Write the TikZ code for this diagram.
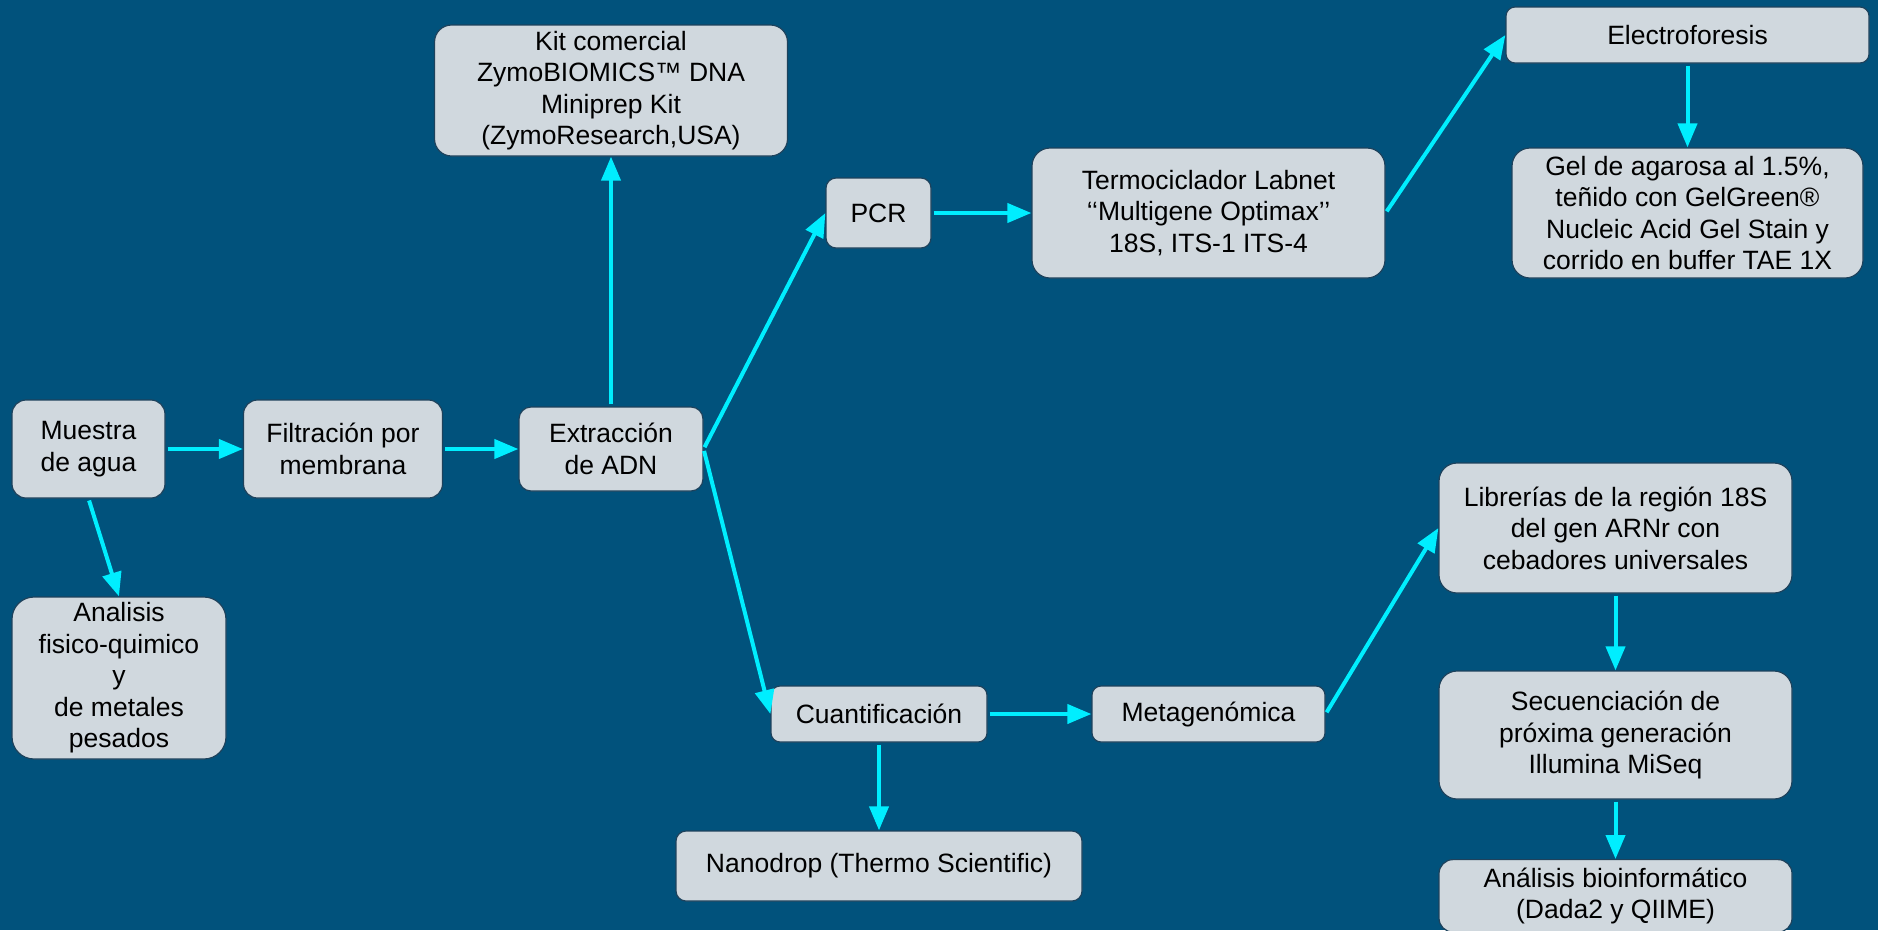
\documentclass[tikz,border=0pt]{standalone}
\usepackage{fontspec}
\setmainfont{Liberation Sans}
\usetikzlibrary{arrows.meta}

\definecolor{bgblue}{RGB}{1,82,124}
\definecolor{boxfill}{RGB}{208,216,222}
\definecolor{boxline}{RGB}{30,66,92}
\definecolor{flowcyan}{RGB}{0,238,255}

\begin{document}
\begin{tikzpicture}[x=1pt, y=-1pt]

	\tikzstyle{box_step} = [rectangle, rounded corners=14pt, draw=boxline, line width=1.2pt, fill=boxfill, align=center, inner sep=4pt, font=\fontsize{26.5}{31.5}\selectfont]
	\tikzstyle{flow} = [-{Triangle[length=24pt, width=19pt]}, line width=4pt, color=flowcyan, shorten <=2pt]

	\clip (0,0) rectangle (1878,930);
	\fill[bgblue] (0,0) rectangle (1878,930);

%------------------------------------------------------------
	\node[box_step, minimum width=153pt, minimum height=98pt] (muestra) at (88.5,449) {Muestra\\de agua};
	\node[box_step, minimum width=199pt, minimum height=98pt] (filtracion) at (343,449) {Filtración por\\membrana};
	\node[box_step, minimum width=184pt, minimum height=84pt, rounded corners=12pt] (extraccion) at (611,449) {Extracción\\de ADN};
	\node[box_step, minimum width=214pt, minimum height=162pt, inner sep=2pt, rounded corners=22pt] (analisis) at (119,678) {Analisis\\fisico-quimico\\y\\de metales\\pesados};

	\draw[flow] (muestra.east) -- (filtracion.west);
	\draw[flow] (filtracion.east) -- (extraccion.west);
	\draw[flow] (muestra.south) -- (analisis.north);

%------------------------------------------------------------
	\node[box_step, minimum width=353pt, minimum height=131pt, inner sep=2pt, rounded corners=17pt] (kit) at (611,90.5) {Kit comercial\\ZymoBIOMICS™ DNA\\Miniprep Kit\\(ZymoResearch,USA)};
	\node[box_step, minimum width=105pt, minimum height=70pt, rounded corners=10pt] (pcr) at (878.5,213) {PCR};
	\node[box_step, minimum width=353pt, minimum height=130pt, rounded corners=18pt] (termo) at (1208.5,213) {Termociclador Labnet\\‘‘Multigene Optimax’’\\18S, ITS-1 ITS-4};

	\draw[flow] (extraccion.north) -- (kit.south);
	\draw[flow] (extraccion.east) -- (pcr.west);
	\draw[flow] (pcr.east) -- (termo.west);

%------------------------------------------------------------
	\node[box_step, minimum width=363pt, minimum height=56pt, rounded corners=9pt] (electro) at (1687.5,35) {Electroforesis};
	\node[box_step, minimum width=351pt, minimum height=130pt, inner sep=2pt, rounded corners=18pt] (gel) at (1687.5,213) {Gel de agarosa al 1.5\%,\\teñido con GelGreen®\\Nucleic Acid Gel Stain y\\corrido en buffer TAE 1X};

	\draw[flow] (termo.east) -- (electro.west);
	\draw[flow] (electro.south) -- (gel.north);

%------------------------------------------------------------
	\node[box_step, minimum width=216pt, minimum height=56pt, rounded corners=9pt] (cuant) at (879,714) {Cuantificación};
	\node[box_step, minimum width=233pt, minimum height=56pt, rounded corners=9pt] (meta) at (1208.5,714) {Metagenómica};
	\node[box_step, minimum width=406pt, minimum height=70pt, rounded corners=10pt] (nano) at (879,866) {Nanodrop (Thermo Scientific)};

	\draw[flow] (extraccion.east) -- (cuant.west);
	\draw[flow] (cuant.east) -- (meta.west);
	\draw[flow] (cuant.south) -- (nano.north);

%------------------------------------------------------------
	\node[box_step, minimum width=353pt, minimum height=130pt, rounded corners=18pt] (libr) at (1615.5,528) {Librerías de la región 18S\\del gen ARNr con\\cebadores universales};
	\node[box_step, minimum width=353pt, minimum height=128pt, rounded corners=18pt] (secu) at (1615.5,735) {Secuenciación de\\próxima generación\\Illumina MiSeq};
	\node[box_step, minimum width=353pt, inner ysep=8pt, anchor=north, rounded corners=14pt] (bioinfo) at (1615.5,859) {Análisis bioinformático\\(Dada2 y QIIME)};

	\draw[flow] (meta.east) -- (libr.west);
	\draw[flow] (libr.south) -- (secu.north);
	\draw[flow] (secu.south) -- (bioinfo.north);

\end{tikzpicture}
\end{document}
